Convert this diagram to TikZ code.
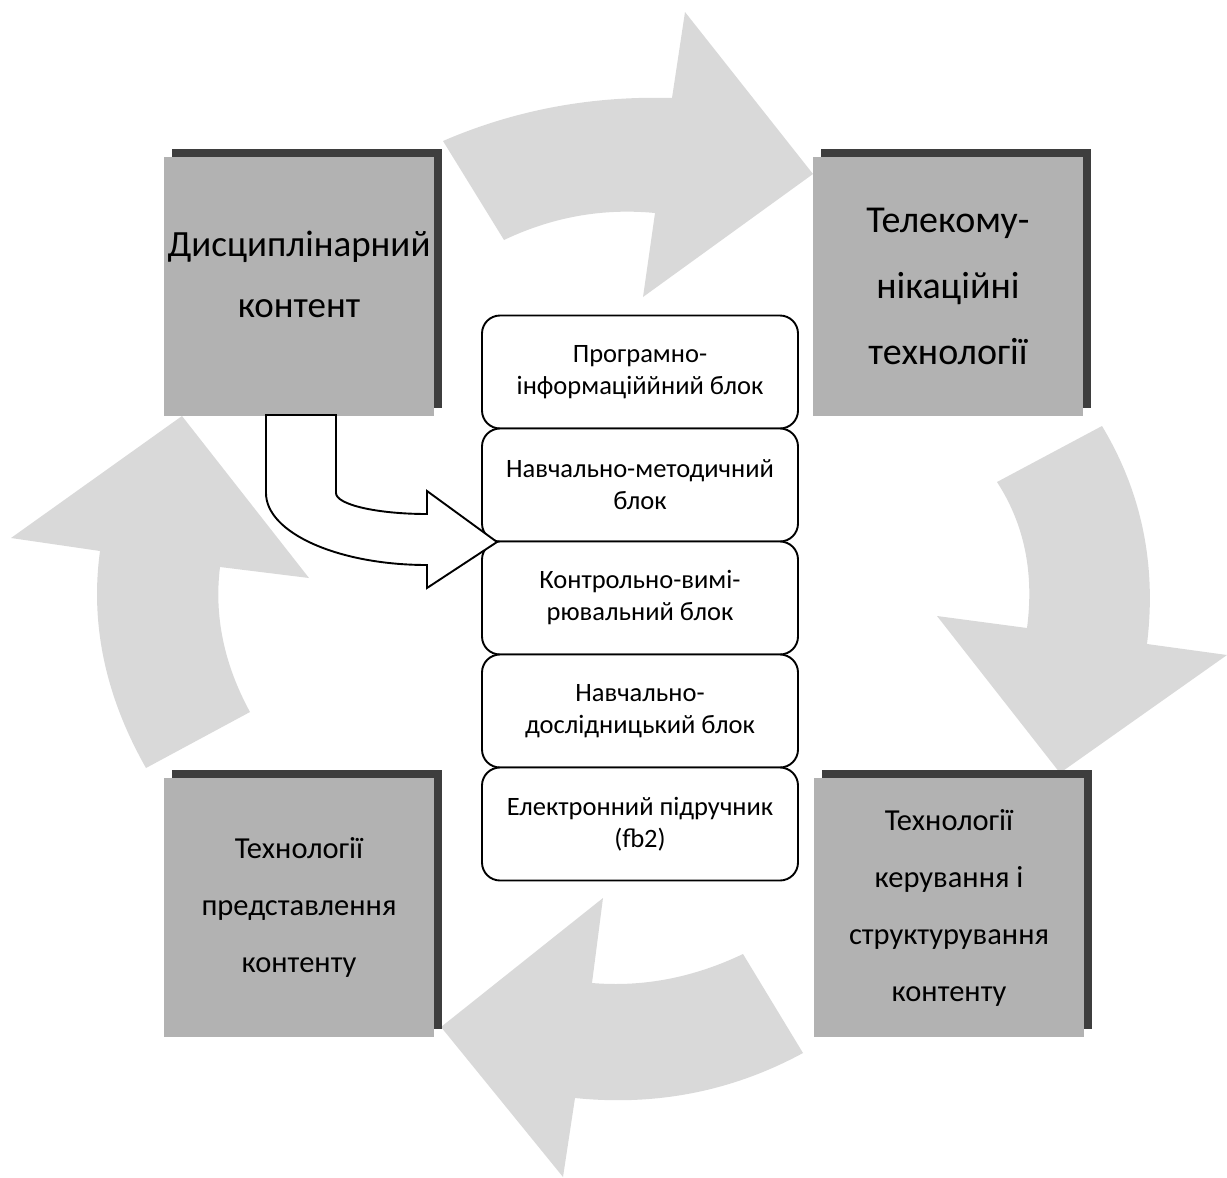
\documentclass[tikz,border=0pt]{standalone}
\usepackage{fontspec}
\setmainfont{Carlito}
\usetikzlibrary{positioning,shadows}
\definecolor{boxgray}{RGB}{178,178,178}
\definecolor{shadowgray}{RGB}{62,62,62}
\definecolor{arrowgray}{RGB}{217,217,217}

\begin{document}
\begin{tikzpicture}[x=1pt,y=-1pt,
    sq/.style={fill=boxgray, minimum width=270pt, minimum height=259pt, align=center, inner sep=0pt,
      general shadow={fill=shadowgray, shadow xshift=8pt, shadow yshift=8pt}},
    blk/.style={draw, line width=1.9pt, rounded corners=18pt, fill=white, outer sep=0pt,
      minimum width=316pt, minimum height=113pt, align=center, font=\fontsize{26.5}{32}\selectfont}]
\useasboundingbox (0,0) rectangle (1227,1178);

% cycle arrows
\fill[arrowgray] (443,141) .. controls (514.7,110) and (591,95.7) .. (672,98) -- (685,12) -- (813,174) -- (643,297)
  -- (655,213) .. controls (602.7,208) and (552.3,217) .. (504,240) -- cycle;
\fill[arrowgray] (1102,426) .. controls (1141.7,492) and (1156.7,564.7) .. (1147,644) -- (1227,655) -- (1060,773) -- (937,616)
  -- (1027,628) .. controls (1034.3,572.7) and (1024.3,524) .. (997,482) -- cycle;
\fill[arrowgray] (803,1053) .. controls (732.3,1091.3) and (656.3,1106.3) .. (575,1098) -- (563,1177) -- (441,1027) -- (603,898)
  -- (592,983) .. controls (643,987.3) and (693.3,977.7) .. (743,954) -- cycle;
\fill[arrowgray] (146,768) .. controls (105.3,696.3) and (90,624) .. (100,551) -- (11,538) -- (182,416) -- (309,578)
  -- (220,567) .. controls (214,616) and (224,664.3) .. (250,712) -- cycle;

\node[sq] (dk) at (299,286.5) {};
\node[align=center, font=\fontsize{37}{61}\selectfont] (dktext) at ([yshift=12pt]dk.center) {Дисциплінарний\\контент};
\node[sq, font=\fontsize{38}{66}\selectfont] (tt) at (948,286.5) {Телекому-\\нікаційні\\технології};
\node[sq, font=\fontsize{30.5}{57}\selectfont] (tp) at (299,907.5) {Технології\\представлення\\контенту};
\node[sq, font=\fontsize{30.5}{57}\selectfont] (tk) at (949,907.5) {Технології\\керування і\\структурування\\контенту};

\node[blk] (b1) at (640,372) {Програмно-\\інформаціййний блок};
\foreach \n/\p/\t in {b2/b1/{Навчально-методичний\\блок}, b3/b2/{Контрольно-вимі-\\рювальний блок},
    b4/b3/{Навчально-\\дослідницький блок}, b5/b4/{Електронний підручник\\(fb2)}}
  \node[blk, below=0pt of \p] (\n) {\t};

\draw[line width=1.9pt, fill=white] (266,415) -- (266,493) .. controls (266,532.8) and (338.1,565) .. (427,565)
  -- (427,588) -- (497,542) -- (427,491) -- (427,514) .. controls (376.7,514) and (336,504.6) .. (336,493)
  -- (336,415) -- cycle;

\end{tikzpicture}
\end{document}
